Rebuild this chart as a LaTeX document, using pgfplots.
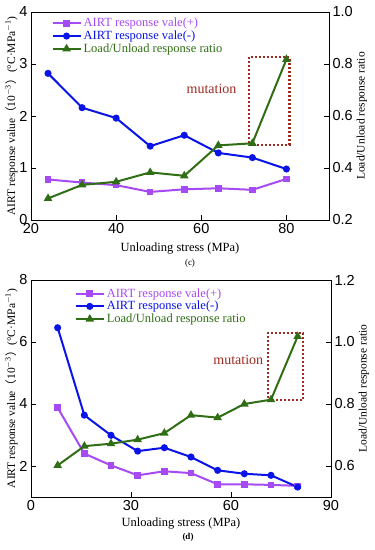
\documentclass[border=0pt]{standalone}
\usepackage{pgfplots}
\pgfplotsset{compat=1.18}
\usepackage{fontspec}
\setmainfont{Liberation Serif}
\newfontfamily\arial{Liberation Sans}
\newfontfamily\cjk{Noto Sans CJK SC}
\definecolor{cplus}{HTML}{A64BF4}
\definecolor{cminus}{HTML}{0A14E6}
\definecolor{cratio}{HTML}{2F6E14}
\definecolor{cmut}{HTML}{9E2A22}
\pgfplotsset{
  base/.style={scale only axis, axis line style={line width=0.9pt},
    tick style={black, line width=0.8pt}, major tick length=5pt, tick align=inside,
    ticklabel style={font=\arial\fontsize{14.5}{14.5}\selectfont},
    /pgf/number format/assume math mode=true,
    label style={font=\fontsize{12.5}{13}\selectfont},
    ylabel style={font=\fontsize{11.5}{12}\selectfont},
    minor tick num=0, clip=false,
    legend image code/.code={\draw[mark repeat=2, mark phase=2] plot coordinates {(0pt,0pt) (14pt,0pt) (28pt,0pt)};}},
  sp/.style={color=cplus, line width=2pt, mark=square*, mark size=2.3pt, mark options={solid}},
  sm/.style={color=cminus, line width=2pt, mark=*, mark size=2.5pt, mark options={solid}},
  sr/.style={color=cratio, line width=2pt, mark=triangle*, mark size=3pt, mark options={solid}},
  mutbox/.style={color=cmut, line width=2.2pt, dash pattern=on 2pt off 2pt, mark=none},
}
\begin{document}
\begin{tikzpicture}
\useasboundingbox (0pt,0pt) rectangle (375pt,550pt);
% ---------------- (c) ----------------
\begin{axis}[base, at={(31pt,330pt)}, anchor=south west, width=298pt, height=208pt,
  xmin=20, xmax=90, ymin=0, ymax=4, xtick={20,40,60,80}, ytick={0,1,2,3,4},
  xtick pos=bottom, ytick pos=left,
  xlabel={Unloading stress (MPa)}, xlabel shift=2pt,
  ylabel={AIRT response value{\cjk （}10\textsuperscript{$-$3}{\cjk ）}(°C·MPa\textsuperscript{$-$1})},
  ylabel shift=-5pt,
  legend style={draw=none, fill=none, at={(0.065,0.985)}, anchor=north west,
    font=\fontsize{12.5}{13}\selectfont, row sep=-1.5pt, inner sep=1pt},
  legend cell align=left]
\addplot[sp] coordinates {(24,0.78) (32,0.72) (40,0.67) (48,0.54) (56,0.59) (64,0.61) (72,0.58) (80,0.79)};
\addlegendentry{\textcolor{cplus}{AIRT response vale(+)}}
\addplot[sm] coordinates {(24,2.82) (32,2.16) (40,1.96) (48,1.42) (56,1.63) (64,1.29) (72,1.20) (80,0.98)};
\addlegendentry{\textcolor{cminus}{AIRT response vale(-)}}
\addlegendimage{sr}
\addlegendentry{\textcolor{cratio}{Load/Unload response ratio}}
\end{axis}
\begin{axis}[base, at={(31pt,330pt)}, anchor=south west, width=298pt, height=208pt,
  xmin=20, xmax=90, ymin=0.2, ymax=1.0, ytick={0.2,0.4,0.6,0.8,1.0},
  axis x line=none, axis y line*=right,
  yticklabel style={/pgf/number format/.cd, fixed, fixed zerofill, precision=1},
  ylabel={Load/Unload response ratio}, ylabel shift=-3pt]
\addplot[mutbox] coordinates {(71.3,0.488) (80.7,0.488) (80.7,0.826) (71.3,0.826) (71.3,0.488)};
\addplot[sr] coordinates {(24,0.283) (32,0.335) (40,0.347) (48,0.383) (56,0.370) (64,0.487) (72,0.495) (80,0.818)};
\node[text=cmut, font=\fontsize{14}{14}\selectfont] at (axis cs:62.4,0.704) {mutation};
\end{axis}
\node[font=\fontsize{9}{9}\selectfont] at (190pt,287pt) {(c)};
% ---------------- (d) ----------------
\begin{axis}[base, at={(31pt,53pt)}, anchor=south west, width=300pt, height=217pt,
  xmin=0, xmax=90, ymin=1, ymax=8, xtick={0,30,60,90}, ytick={2,4,6,8},
  xtick pos=bottom, ytick pos=left,
  xlabel={Unloading stress (MPa)}, xlabel shift=0pt,
  ylabel={AIRT response value{\cjk （}10\textsuperscript{$-$3}{\cjk ）}(°C·MPa\textsuperscript{$-$1})},
  ylabel shift=-5pt,
  legend style={draw=none, fill=none, at={(0.142,0.975)}, anchor=north west,
    font=\fontsize{12.5}{13}\selectfont, row sep=-1.5pt, inner sep=1pt},
  legend cell align=left]
\addplot[sp] coordinates {(8,3.88) (16,2.40) (24,2.02) (32,1.70) (40,1.83) (48,1.77) (56,1.41) (64,1.41) (72,1.39) (80,1.36)};
\addlegendentry{\textcolor{cplus}{AIRT response vale(+)}}
\addplot[sm] coordinates {(8,6.46) (16,3.64) (24,2.99) (32,2.48) (40,2.59) (48,2.29) (56,1.86) (64,1.75) (72,1.70) (80,1.32)};
\addlegendentry{\textcolor{cminus}{AIRT response vale(-)}}
\addlegendimage{sr}
\addlegendentry{\textcolor{cratio}{Load/Unload response ratio}}
\end{axis}
\begin{axis}[base, at={(31pt,53pt)}, anchor=south west, width=300pt, height=217pt,
  xmin=0, xmax=90, ymin=0.5, ymax=1.2, ytick={0.6,0.8,1.0,1.2},
  axis x line=none, axis y line*=right,
  yticklabel style={/pgf/number format/.cd, fixed, fixed zerofill, precision=1},
  ylabel={Load/Unload response ratio}, ylabel shift=-3pt]
\addplot[mutbox] coordinates {(71.1,0.812) (81.5,0.812) (81.5,1.029) (71.1,1.029) (71.1,0.812)};
\addplot[sr] coordinates {(8,0.602) (16,0.664) (24,0.672) (32,0.685) (40,0.706) (48,0.764) (56,0.756) (64,0.800) (72,0.814) (80,1.018)};
\node[text=cmut, font=\fontsize{14}{14}\selectfont] at (axis cs:62.2,0.941) {mutation};
\end{axis}
\node[font=\bfseries\fontsize{9}{9}\selectfont] at (188pt,13pt) {(d)};
\end{tikzpicture}
\end{document}
